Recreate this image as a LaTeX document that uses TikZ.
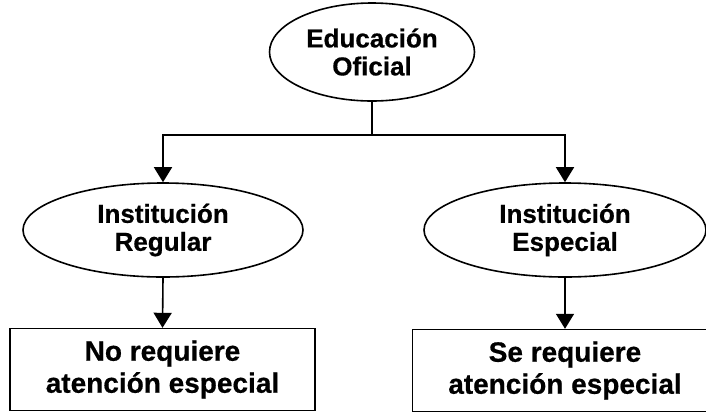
\documentclass[tikz,border=0pt]{standalone}
\usepackage{fontspec}
\setmainfont{Liberation Sans}[FakeBold=0.6]
\usetikzlibrary{shapes.geometric,arrows.meta}
\tikzset{
    nivel/.style={ellipse,draw,line width=1.6pt,inner sep=0pt,align=center,
        font=\bfseries\fontsize{26}{28}\selectfont},
    caja/.style={rectangle,draw,line width=1.4pt,inner sep=0pt,align=center,
        minimum width=305pt,minimum height=82pt,
        font=\bfseries\fontsize{28}{32}\selectfont},
    flecha/.style={line width=1.6pt,-{Triangle[width=18pt,length=15pt]}}
}

\begin{document}
\begin{tikzpicture}[x=1pt,y=1pt]
            \useasboundingbox (0,0) rectangle (706,-413);
            \clip (0,0) rectangle (706,-413);

            \node[nivel,minimum width=205pt,minimum height=98pt] (oficial) at (372,-52) {Educación\\Oficial};
            \node[nivel,minimum width=280pt,minimum height=94pt] (regular) at (163,-230) {Institución\\Regular};
            \node[nivel,minimum width=282pt,minimum height=94pt] (especial) at (565,-230) {Institución\\Especial};

            \node[caja] (noreq) at (162.5,-369.5) {No requiere\\atención especial};
            \node[caja] (sereq) at (565,-370.5) {Se requiere\\atención especial};

            \draw[line width=1.6pt] (oficial.south) -- ++(0,-33) coordinate (reparto);
            \draw[flecha] (reparto) -| (regular.north);
            \draw[flecha] (reparto) -| (especial.north);
            \draw[flecha] (regular.south) -- (noreq.north);
            \draw[flecha] (especial.south) -- (sereq.north);
        \end{tikzpicture}
\end{document}
